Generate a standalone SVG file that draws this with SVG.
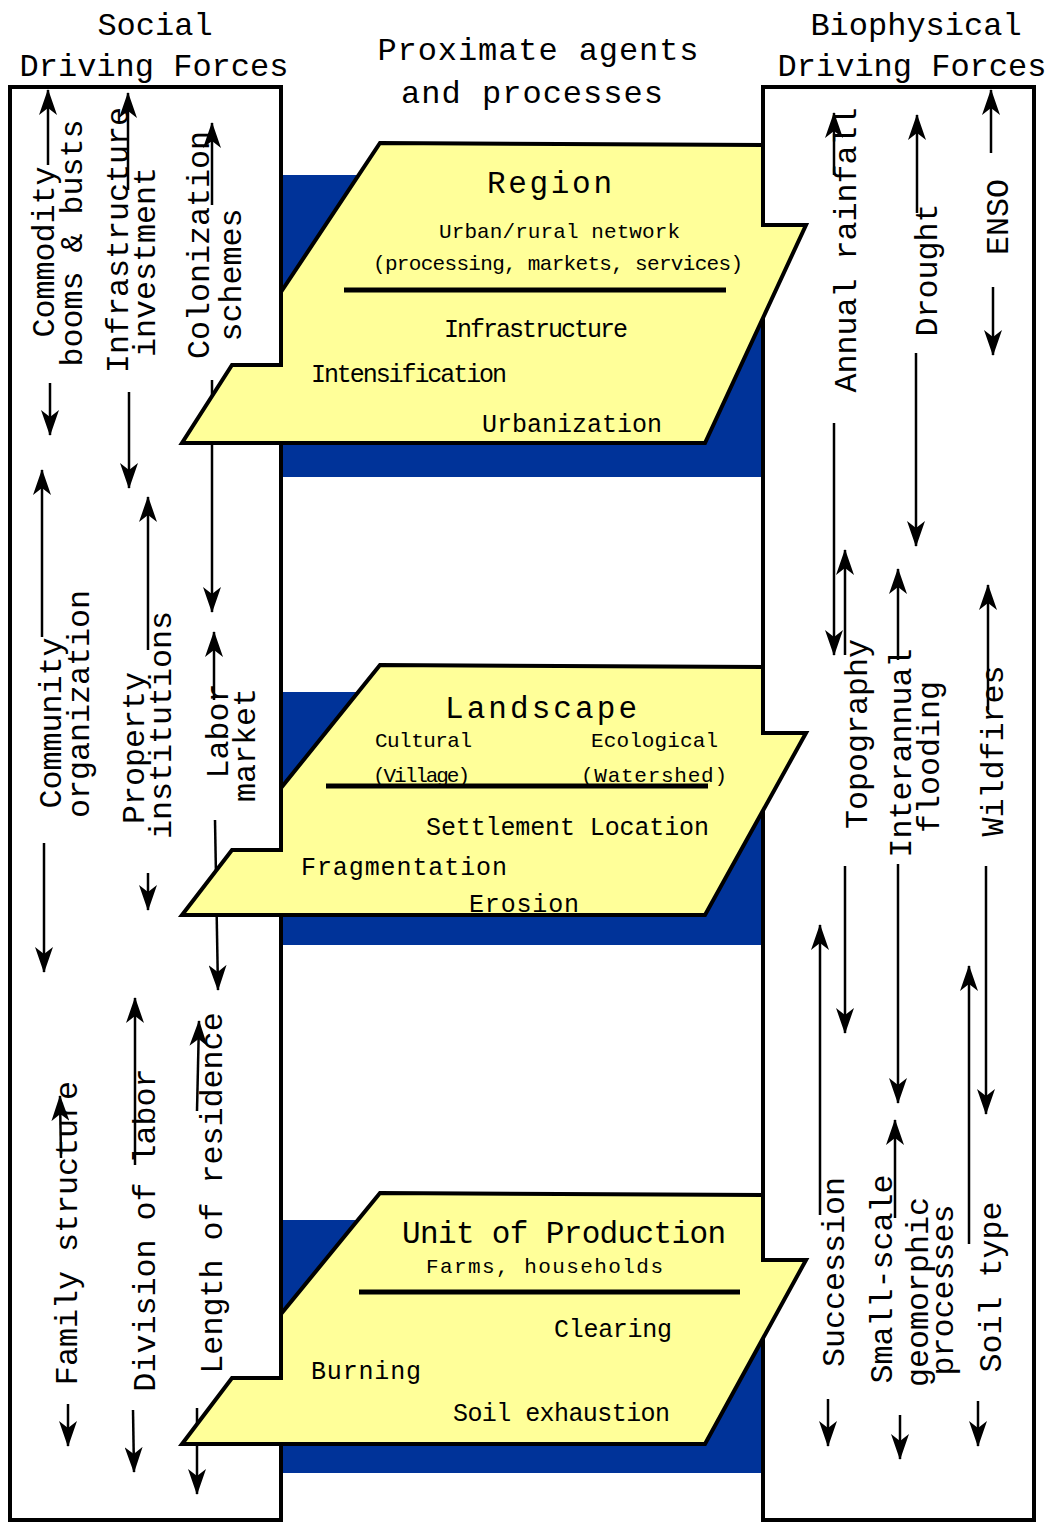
<svg xmlns="http://www.w3.org/2000/svg" width="1047" height="1522" viewBox="0 0 1047 1522">
<defs>
<marker id="ah" viewBox="0 0 26 18" refX="25" refY="9" markerWidth="26" markerHeight="18" markerUnits="userSpaceOnUse" orient="auto">
<path d="M0,0 L26,9 L0,18 L7,9 Z" fill="#000"/>
</marker>
<style>
.box{fill:#fff;stroke:#000;stroke-width:4}
.blue{fill:#003399}
.yel{fill:#FFFF99;stroke:#000;stroke-width:4;stroke-linejoin:miter}
.arr{stroke:#000;stroke-width:2.5;fill:none;marker-end:url(#ah)}
.sep{stroke:#000;stroke-width:5}
text{font-family:"Liberation Mono","Courier New",monospace;fill:#000}
.hd{font-size:32px;text-anchor:middle}
.vt{font-size:31.7px;text-anchor:middle}
.t1{font-size:31px}
.t2{font-size:21px}
.t3{font-size:25px}
</style>
</defs>
<rect x="0" y="0" width="1047" height="1522" fill="#fff"/>

<g id="headers">
<text class="hd" x="155" y="35">Social</text>
<text class="hd" x="154" y="76">Driving Forces</text>
<text class="hd" x="538" y="60" textLength="321" lengthAdjust="spacing">Proximate agents</text>
<text class="hd" x="532" y="103" textLength="262" lengthAdjust="spacing">and processes</text>
<text class="hd" x="916" y="35">Biophysical</text>
<text class="hd" x="912" y="76">Driving Forces</text>
</g>

<g id="bands">
<rect class="blue" x="281" y="175" width="482" height="302"/>
<rect class="blue" x="281" y="692" width="482" height="253"/>
<rect class="blue" x="281" y="1220" width="482" height="253"/>
</g>

<g id="social-box"><rect class="box" x="10" y="87" width="271" height="1433"/></g>
<g id="biophysical-box"><rect class="box" x="763" y="87" width="271" height="1433"/></g>

<g id="connectors">
<line class="arr" x1="48" y1="165" x2="48" y2="90"/>
<line class="arr" x1="50" y1="383" x2="50" y2="435"/>
<line class="arr" x1="128" y1="190" x2="128" y2="93"/>
<line class="arr" x1="129" y1="392" x2="129" y2="488"/>
<line class="arr" x1="212" y1="205" x2="212" y2="123"/>
<line class="arr" x1="212" y1="380" x2="212" y2="612"/>
<line class="arr" x1="42" y1="637" x2="42" y2="470"/>
<line class="arr" x1="44" y1="843" x2="44" y2="972"/>
<line class="arr" x1="148" y1="650" x2="148" y2="497"/>
<line class="arr" x1="148" y1="873" x2="148" y2="910"/>
<line class="arr" x1="214" y1="700" x2="214" y2="632"/>
<line class="arr" x1="215" y1="820" x2="218" y2="990"/>
<line class="arr" x1="61" y1="1158" x2="60" y2="1096"/>
<line class="arr" x1="68" y1="1404" x2="68" y2="1446"/>
<line class="arr" x1="135" y1="1165" x2="135" y2="998"/>
<line class="arr" x1="133" y1="1410" x2="134" y2="1472"/>
<line class="arr" x1="197" y1="1111" x2="199" y2="1021"/>
<line class="arr" x1="197" y1="1408" x2="197" y2="1494"/>
<line class="arr" x1="834" y1="175" x2="834" y2="113"/>
<line class="arr" x1="834" y1="423" x2="834" y2="655"/>
<line class="arr" x1="917" y1="213" x2="917" y2="115"/>
<line class="arr" x1="916" y1="353" x2="916" y2="546"/>
<line class="arr" x1="991" y1="153" x2="991" y2="90"/>
<line class="arr" x1="993" y1="287" x2="993" y2="355"/>
<line class="arr" x1="845" y1="655" x2="845" y2="550"/>
<line class="arr" x1="845" y1="866" x2="845" y2="1033"/>
<line class="arr" x1="898" y1="660" x2="898" y2="569"/>
<line class="arr" x1="898" y1="864" x2="898" y2="1103"/>
<line class="arr" x1="988" y1="710" x2="988" y2="585"/>
<line class="arr" x1="986" y1="866" x2="986" y2="1114"/>
<line class="arr" x1="820" y1="1215" x2="820" y2="925"/>
<line class="arr" x1="828" y1="1399" x2="828" y2="1446"/>
<line class="arr" x1="895" y1="1218" x2="895" y2="1120"/>
<line class="arr" x1="900" y1="1415" x2="900" y2="1459"/>
<line class="arr" x1="969" y1="1244" x2="969" y2="966"/>
<line class="arr" x1="978" y1="1401" x2="978" y2="1446"/>
</g>

<g id="social-labels">
<text class="vt" transform="translate(54,252) rotate(-90)">Commodity</text>
<text class="vt" transform="translate(82,243) rotate(-90)">booms &amp; busts</text>
<text class="vt" transform="translate(128,240) rotate(-90)">Infrastructure</text>
<text class="vt" transform="translate(155,262) rotate(-90)">investment</text>
<text class="vt" transform="translate(209,245) rotate(-90)">Colonization</text>
<text class="vt" transform="translate(241,275) rotate(-90)">schemes</text>
<text class="vt" transform="translate(61,723) rotate(-90)">Community</text>
<text class="vt" transform="translate(89,704) rotate(-90)">organization</text>
<text class="vt" transform="translate(144,748) rotate(-90)">Property</text>
<text class="vt" transform="translate(171,725) rotate(-90)">institutions</text>
<text class="vt" transform="translate(228,731) rotate(-90)">Labor</text>
<text class="vt" transform="translate(255,745) rotate(-90)">market</text>
<text class="vt" transform="translate(77,1233) rotate(-90)">Family structure</text>
<text class="vt" transform="translate(155,1230) rotate(-90)">Division of labor</text>
<text class="vt" transform="translate(222,1193) rotate(-90)">Length of residence</text>
</g>

<g id="biophysical-labels">
<text class="vt" transform="translate(856,250) rotate(-90)">Annual rainfall</text>
<text class="vt" transform="translate(937,270) rotate(-90)">Drought</text>
<text class="vt" transform="translate(1008,217) rotate(-90)">ENSO</text>
<text class="vt" transform="translate(867,734) rotate(-90)">Topography</text>
<text class="vt" transform="translate(911,753) rotate(-90)">Interannual</text>
<text class="vt" transform="translate(939,757) rotate(-90)">flooding</text>
<text class="vt" transform="translate(1003,751) rotate(-90)">Wildfires</text>
<text class="vt" transform="translate(844,1272) rotate(-90)">Succession</text>
<text class="vt" transform="translate(892,1279) rotate(-90)">Small-scale</text>
<text class="vt" transform="translate(928,1292) rotate(-90)">geomorphic</text>
<text class="vt" transform="translate(953,1290) rotate(-90)">processes</text>
<text class="vt" transform="translate(1001,1287) rotate(-90)">Soil type</text>
</g>

<g id="region">
<polygon class="yel" points="380,143 763,145 763,225 806,225 705,443 182,443 232,365 281,365 281,292"/>
<text class="t1" x="487" y="193" textLength="125" lengthAdjust="spacing">Region</text>
<text class="t2" x="439" y="238" textLength="241" lengthAdjust="spacing">Urban/rural network</text>
<text class="t2" x="373" y="270" textLength="370" lengthAdjust="spacing">(processing, markets, services)</text>
<line class="sep" x1="344" y1="290" x2="726" y2="290"/>
<text class="t3" x="444" y="337" textLength="184" lengthAdjust="spacing">Infrastructure</text>
<text class="t3" x="311" y="382" textLength="196" lengthAdjust="spacing">Intensification</text>
<text class="t3" x="482" y="432" textLength="180" lengthAdjust="spacing">Urbanization</text>
</g>

<g id="landscape">
<polygon class="yel" points="380,665 763,667 763,733 806,733 705,915 182,915 232,850 281,850 281,788"/>
<text class="t1" x="445" y="718" textLength="192" lengthAdjust="spacing">Landscape</text>
<text class="t2" x="375" y="747" textLength="97" lengthAdjust="spacing">Cultural</text>
<text class="t2" x="591" y="747" textLength="127" lengthAdjust="spacing">Ecological</text>
<text class="t2" x="373" y="782" textLength="97" lengthAdjust="spacing">(Village)</text>
<text class="t2" x="581" y="782" textLength="146" lengthAdjust="spacing">(Watershed)</text>
<line class="sep" x1="326" y1="786" x2="708" y2="786"/>
<text class="t3" x="426" y="835" textLength="283" lengthAdjust="spacing">Settlement Location</text>
<text class="t3" x="301" y="875" textLength="206" lengthAdjust="spacing">Fragmentation</text>
<text class="t3" x="469" y="912" textLength="110" lengthAdjust="spacing">Erosion</text>
</g>

<g id="unit-of-production">
<polygon class="yel" points="380,1193 763,1195 763,1260 806,1260 705,1444 182,1444 232,1378 281,1378 281,1314"/>
<text class="t1" x="402" y="1243" textLength="324" lengthAdjust="spacing">Unit of Production</text>
<text class="t2" x="426" y="1273" textLength="237" lengthAdjust="spacing">Farms, households</text>
<line class="sep" x1="359" y1="1292" x2="740" y2="1292"/>
<text class="t3" x="554" y="1337" textLength="118" lengthAdjust="spacing">Clearing</text>
<text class="t3" x="311" y="1379" textLength="110" lengthAdjust="spacing">Burning</text>
<text class="t3" x="453" y="1421" textLength="217" lengthAdjust="spacing">Soil exhaustion</text>
</g>
</svg>
